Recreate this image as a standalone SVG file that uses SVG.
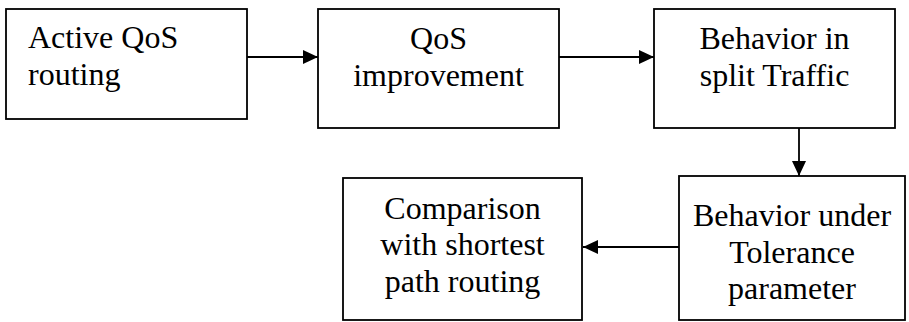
<svg xmlns="http://www.w3.org/2000/svg" width="909" height="322" viewBox="0 0 909 322">
<defs>
<style>
.box{fill:#fff;stroke:#000;stroke-width:1.8}
.t{font-family:'Liberation Serif','Times New Roman',serif;font-size:32px;fill:#000}
.c{text-anchor:middle}
.ln{stroke:#000;stroke-width:1.8;fill:none}
</style>
<marker id="ah" markerUnits="userSpaceOnUse" markerWidth="16" markerHeight="14" refX="15" refY="7" orient="auto">
<path d="M0,0 L15,7 L0,14 Z" fill="#000"/>
</marker>
</defs>
<rect width="909" height="322" fill="#fff"/>
<g id="connectors">
<line class="ln" x1="247" y1="57" x2="318" y2="57" marker-end="url(#ah)"/>
<line class="ln" x1="559" y1="57" x2="654" y2="57" marker-end="url(#ah)"/>
<line class="ln" x1="799" y1="128" x2="799" y2="176" marker-end="url(#ah)"/>
<line class="ln" x1="679" y1="247" x2="583" y2="247" marker-end="url(#ah)"/>
</g>
<g id="n1">
<rect class="box" x="6" y="9" width="241" height="110"/>
<text class="t" x="28" y="48">Active QoS</text>
<text class="t" x="28" y="85">routing</text>
</g>
<g id="n2">
<rect class="box" x="318" y="9" width="241" height="119"/>
<text class="t c" x="438.5" y="49">QoS</text>
<text class="t c" x="438.5" y="86">improvement</text>
</g>
<g id="n3">
<rect class="box" x="654" y="9" width="241" height="119"/>
<text class="t c" x="774.5" y="49">Behavior in</text>
<text class="t c" x="774.5" y="86">split Traffic</text>
</g>
<g id="n4">
<rect class="box" x="679" y="176" width="226" height="144"/>
<text class="t c" x="792" y="226">Behavior under</text>
<text class="t c" x="792" y="263">Tolerance</text>
<text class="t c" x="792" y="299">parameter</text>
</g>
<g id="n5">
<rect class="box" x="343" y="178" width="239" height="142"/>
<text class="t c" x="462.5" y="219">Comparison</text>
<text class="t c" x="462.5" y="255">with shortest</text>
<text class="t c" x="462.5" y="292">path routing</text>
</g>
</svg>
